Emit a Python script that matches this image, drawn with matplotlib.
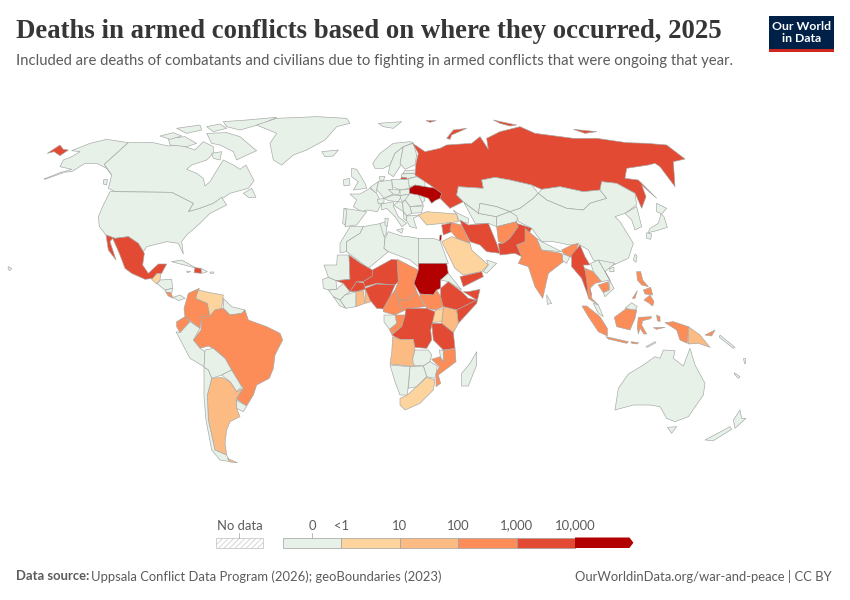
import numpy as np
import matplotlib
matplotlib.use('Agg')
import matplotlib.pyplot as plt
from matplotlib.colors import BoundaryNorm, ListedColormap
from matplotlib.patches import Polygon, Rectangle

plt.rcParams['hatch.linewidth'] = 0.5
plt.rcParams['hatch.color'] = '#dcdcdc'

# estimated deaths per country, read off the colour classes of the map
no_deaths = ['Alaska', 'Aleutians', 'Canada', 'USA', 'Greenland', 'Iceland', 'Baffin', 'Victoria', 'Ellesmere', 'Banks', 'Melville', 'QueenEliz',
             'Southampton', 'Vancouver', 'Newfoundland', 'Cuba', 'DomRep', 'Jamaica', 'PuertoRico', 'Honduras', 'Nicaragua', 'Panama', 'Guyanas',
             'Peru', 'Bolivia', 'Paraguay', 'Uruguay', 'Chile', 'Morocco', 'Algeria', 'Tunisia', 'Libya', 'Egypt', 'Mauritania',
             'Senegal', 'Guinea', 'Liberia', 'IvoryCoast', 'Eritrea', 'Gabon', 'Zambia', 'Malawi', 'Zimbabwe',
             'Botswana', 'Namibia', 'Madagascar', 'Norway', 'Sweden', 'Finland', 'Estonia', 'Lithuania', 'Belarus', 'Poland',
             'Germany', 'Denmark', 'UK', 'Ireland', 'France', 'Spain', 'Portugal', 'Italy', 'Sicily', 'Sardinia',
             'Czechia', 'Austria', 'Hungary', 'Romania', 'Moldova', 'Bulgaria', 'Serbia', 'Croatia', 'Albania', 'Greece', 'Slovakia', 'Switzerland',
             'Benelux', 'Svalbard', 'Caucasus', 'Kazakhstan', 'Turkmenistan', 'Uzbekistan', 'Kyrgyzstan', 'Mongolia', 'China', 'Korea', 'Honshu',
             'Hokkaido', 'Kyushu', 'Taiwan', 'Hainan', 'Oman', 'Bangladesh', 'Nepal', 'SriLanka', 'Laos', 'Vietnam',
             'Malaya', 'Sabah', 'Australia', 'Tasmania', 'NZNorth', 'NZSouth', 'Hawaii', 'Solomon', 'Vanuatu', 'NewCaledonia', 'Flores']
low = ['Guatemala', 'Venezuela', 'Turkey', 'Saudi', 'SouthAfrica', 'Uganda']
mid = ['Argentina', 'Kenya', 'Ghana', 'Togo', 'Angola', 'PNG', 'Tierra']
high = ['Colombia', 'Ecuador', 'Brazil', 'CostaRica', 'Chad', 'SouthSudan', 'CAR', 'Cameroon', 'Congo', 'Mozambique',
        'Iraq', 'Afghanistan', 'India', 'NEIndia', 'Thailand', 'Cambodia', 'Sumatra', 'Java', 'Kalimantan', 'Sulawesi',
        'WestPapua', 'Luzon', 'Mindanao', 'Palawan', 'Visayas', 'Timor', 'Seram', 'Halmahera', 'Bougainville']
higher = ['Chukotka', 'Mexico', 'Haiti', 'Mali', 'Burkina', 'Niger', 'Nigeria', 'Ethiopia', 'Somalia', 'Tanzania',
          'DRC', 'Russia', 'Kaliningrad', 'NovayaZemlya', 'Severnaya', 'NewSiberian', 'FranzJosef', 'Syria', 'Iran', 'Yemen',
          'Pakistan', 'Myanmar']
highest = ['Ukraine', 'Sudan', 'Israel']
deaths = {}
for names, value in [(no_deaths, 0), (low, 5), (mid, 50), (high, 500), (higher, 5000), (highest, 20000)]:
    for name in names:
        deaths[name] = value

legend_labels = ['0', '<1', '10', '100', '1,000', '10,000']
class_edges = [0, 1, 10, 100, 1000, 10000, 1000000]
class_colors = ['#e7f1e8', '#fdd49e', '#fdbb84', '#fc8d59', '#e34a33', '#b30000']

NA = (0, 110)
EA = (340, 110)
SA = (130, 280)
AF = (320, 240)
SE = (500, 230)
EU = (360, 130)

shapes = {
    'Aleutians': (NA, [(132, 207), (185, 186), (188, 189), (134, 208)]),
    'Alaska': (NA, [(185, 187), (215, 178), (180, 170), (190, 150), (215, 140), (240, 125), (215, 122), (270, 100), (320, 88), (385, 98), (313, 163),
                    (335, 195), (320, 175), (290, 160), (255, 160), (215, 185)]),
    'Chukotka': (NA, [(142, 130), (180, 105), (190, 118), (205, 120), (180, 137), (162, 125)]),
    'Canada': (NA, [(385, 98), (455, 97), (505, 108), (540, 105), (585, 120), (610, 95), (640, 110), (640, 130), (620, 150), (575, 165),
                    (560, 178), (590, 190), (610, 205), (615, 228), (630, 215), (645, 190), (670, 150), (700, 165), (720, 178),
                    (738, 165), (762, 212), (745, 235), (690, 250), (672, 262), (640, 280), (600, 295), (565, 305), (580, 280), (515, 247),
                    (345, 245), (325, 235), (335, 195), (313, 163)]),
    'Baffin': (NA, [(620, 70), (680, 68), (720, 80), (755, 110), (770, 122), (730, 140), (710, 150), (700, 125), (660, 105), (635, 100)]),
    'Southampton': (NA, [(635, 130), (665, 125), (660, 150), (640, 145)]),
    'Victoria': (NA, [(505, 85), (555, 80), (590, 100), (560, 110), (510, 105)]),
    'Banks': (NA, [(480, 78), (520, 68), (545, 78), (510, 88)]),
    'Melville': (NA, [(530, 55), (600, 45), (605, 60), (560, 70)]),
    'QueenEliz': (NA, [(620, 50), (660, 42), (680, 55), (640, 65)]),
    'Ellesmere': (NA, [(670, 35), (740, 30), (830, 22), (790, 40), (720, 60), (680, 50)]),
    'Vancouver': (NA, [(310, 210), (322, 208), (320, 225), (310, 222)]),
    'Newfoundland': (NA, [(730, 250), (755, 235), (768, 262), (745, 262)]),
    'Greenland': (NA, [(770, 45), (830, 25), (950, 20), (1040, 25), (1050, 40), (1010, 50), (975, 90), (920, 120), (880, 135),
                       (845, 165), (820, 150), (810, 100), (830, 70)]),
    'Iceland': (NA, [(965, 125), (1015, 120), (1000, 138), (975, 140)]),
    'USA': (NA, [(330, 245), (345, 245), (515, 247), (580, 280), (565, 305), (600, 295), (640, 280), (665, 262), (680, 285), (630, 310), (600, 340),
                 (560, 375), (545, 395), (550, 432), (535, 400), (500, 395), (440, 410), (430, 425), (415, 400), (385, 380), (345, 385),
                 (318, 375), (298, 350), (295, 320), (310, 285)]),
    'Mexico': (NA, [(318, 375), (345, 385), (385, 380), (415, 400), (433, 430), (428, 465), (445, 490), (475, 462), (500, 462),
                    (485, 490), (470, 490), (460, 505), (435, 508), (395, 490), (375, 475), (358, 430), (338, 385), (330, 395),
                    (348, 450), (325, 420)]),
    'Guatemala': (NA, [(455, 508), (470, 492), (482, 490), (480, 510), (470, 522)]),
    'Honduras': (NA, [(480, 510), (515, 508), (518, 535), (495, 540), (472, 522)]),
    'Nicaragua': (NA, [(495, 540), (518, 535), (515, 550), (500, 548)]),
    'CostaRica': (NA, [(497, 546), (512, 548), (520, 565), (505, 558)]),
    'Panama': (NA, [(520, 562), (540, 555), (555, 565), (535, 572)]),
    'Cuba': (NA, [(515, 455), (545, 450), (590, 475), (560, 467)]),
    'Haiti': (NA, [(585, 473), (603, 475), (605, 490), (582, 488)]),
    'DomRep': (NA, [(603, 475), (622, 485), (605, 490)]),
    'Jamaica': (NA, [(560, 483), (572, 485), (562, 488)]),
    'PuertoRico': (NA, [(630, 486), (642, 486), (640, 490), (630, 490)]),
    'Hawaii': (NA, [(25, 470), (35, 475), (30, 482), (24, 477)]),
    'Colombia': (SA, [(208, 25), (175, 40), (162, 85), (165, 110), (180, 122), (210, 145), (215, 110), (240, 108), (232, 70), (197, 55)]),
    'Ecuador': (SA, [(140, 125), (165, 110), (180, 125), (150, 158), (140, 140)]),
    'Venezuela': (SA, [(197, 55), (205, 30), (240, 38), (280, 45), (275, 85), (255, 90), (240, 110), (232, 70)]),
    'Guyanas': (SA, [(280, 55), (305, 80), (345, 90), (335, 100), (300, 105), (280, 85)]),
    'Brazil': (SA, [(215, 110), (240, 108), (255, 90), (280, 85), (300, 105), (335, 100), (345, 90), (355, 120), (410, 140), (450, 160),
                    (458, 180), (435, 225), (430, 265), (418, 295), (380, 315), (370, 345), (350, 378), (320, 357), (340, 325), (320, 295),
                    (305, 270), (285, 235), (250, 205), (235, 198), (210, 205), (190, 180), (213, 150)]),
    'Peru': (SA, [(138, 155), (150, 158), (180, 125), (210, 145), (190, 180), (210, 205), (225, 215), (222, 260), (180, 235)]),
    'Bolivia': (SA, [(225, 210), (250, 205), (285, 235), (305, 270), (275, 285), (245, 295), (235, 270), (222, 262)]),
    'Paraguay': (SA, [(275, 285), (305, 270), (320, 295), (335, 320), (320, 335), (300, 305)]),
    'Uruguay': (SA, [(318, 360), (350, 378), (340, 395), (320, 385)]),
    'Argentina': (SA, [(245, 295), (275, 292), (300, 305), (320, 335), (338, 325), (318, 358), (320, 385), (330, 410), (300, 425),
                       (290, 450), (285, 490), (290, 525), (255, 510), (235, 420), (232, 345)]),
    'Chile': (SA, [(222, 262), (235, 270), (245, 295), (232, 345), (235, 420), (255, 510), (290, 525), (300, 545), (270, 540), (245, 510),
                   (228, 420), (222, 350)]),
    'Tierra': (SA, [(292, 535), (322, 548), (300, 546)]),
    'Morocco': (EA, [(0, 400), (30, 350), (70, 350), (60, 370), (20, 395), (20, 425), (0, 428)]),
    'Algeria': (EA, [(60, 370), (70, 350), (125, 340), (135, 385), (132, 415), (145, 425), (85, 475), (20, 425), (20, 395)]),
    'Tunisia': (EA, [(120, 340), (138, 335), (140, 370), (132, 380)]),
    'Libya': (EA, [(135, 385), (145, 365), (185, 378), (205, 380), (235, 385), (235, 470), (210, 450), (145, 425), (132, 415)]),
    'Egypt': (EA, [(235, 385), (280, 385), (300, 392), (325, 460), (235, 460)]),
    'Mauritania': (AF, [(12, 75), (50, 75), (52, 45), (87, 45), (90, 118), (48, 122), (25, 112)]),
    'Senegal': (AF, [(8, 118), (25, 112), (48, 122), (50, 148), (25, 150), (10, 145)]),
    'Guinea': (AF, [(25, 150), (50, 148), (70, 130), (90, 155), (75, 165), (60, 180), (40, 170)]),
    'Liberia': (AF, [(40, 170), (60, 180), (78, 205), (60, 198)]),
    'IvoryCoast': (AF, [(75, 165), (108, 155), (108, 200), (78, 205), (60, 180)]),
    'Mali': (AF, [(87, 45), (122, 70), (157, 90), (157, 108), (130, 125), (110, 125), (90, 155), (70, 130), (48, 122), (90, 118)]),
    'Burkina': (AF, [(90, 155), (110, 125), (135, 130), (135, 148), (108, 155)]),
    'Ghana': (AF, [(108, 155), (130, 152), (135, 190), (108, 200)]),
    'Togo': (AF, [(135, 150), (150, 145), (152, 185), (137, 190)]),
    'Niger': (AF, [(157, 90), (215, 58), (232, 60), (235, 125), (225, 135), (170, 130), (135, 140), (130, 125), (157, 108)]),
    'Nigeria': (AF, [(135, 145), (170, 132), (225, 135), (210, 170), (190, 207), (170, 205), (150, 180)]),
    'Chad': (AF, [(232, 58), (295, 90), (282, 130), (290, 155), (265, 180), (235, 180), (225, 150), (235, 125)]),
    'Sudan': (AF, [(295, 70), (380, 70), (385, 100), (362, 120), (362, 145), (350, 150), (340, 165), (300, 162), (282, 130), (295, 90)]),
    'SouthSudan': (AF, [(300, 162), (340, 165), (350, 150), (362, 170), (370, 200), (345, 210), (320, 205), (300, 170)]),
    'CAR': (AF, [(235, 180), (265, 180), (290, 155), (315, 200), (270, 205), (245, 215)]),
    'Cameroon': (AF, [(225, 150), (235, 180), (245, 215), (225, 225), (190, 215), (190, 205), (210, 170)]),
    'Eritrea': (AF, [(362, 120), (385, 100), (425, 150), (385, 125)]),
    'Ethiopia': (AF, [(385, 125), (425, 155), (445, 175), (470, 180), (410, 210), (370, 200), (362, 170), (362, 145)]),
    'Somalia': (AF, [(480, 148), (470, 190), (415, 250), (410, 210), (470, 180), (430, 155), (445, 155)]),
    'Kenya': (AF, [(370, 200), (410, 210), (415, 250), (400, 278), (365, 250)]),
    'Uganda': (AF, [(345, 212), (370, 205), (365, 245), (335, 248)]),
    'Tanzania': (AF, [(335, 250), (365, 250), (400, 278), (405, 325), (370, 330), (340, 300)]),
    'DRC': (AF, [(258, 205), (270, 205), (320, 205), (345, 215), (332, 270), (335, 300), (320, 325), (285, 322), (280, 298), (240, 298),
                 (215, 285), (245, 260), (255, 225)]),
    'Congo': (AF, [(225, 225), (255, 225), (245, 260), (215, 282), (208, 268), (230, 250)]),
    'Gabon': (AF, [(192, 225), (225, 225), (230, 250), (208, 268), (192, 245)]),
    'Angola': (AF, [(218, 290), (240, 298), (280, 298), (285, 330), (278, 355), (285, 380), (210, 372), (215, 340)]),
    'Zambia': (AF, [(285, 330), (325, 330), (335, 345), (330, 365), (310, 378), (280, 375), (278, 355)]),
    'Malawi': (AF, [(358, 330), (370, 332), (372, 365), (362, 355)]),
    'Mozambique': (AF, [(335, 358), (360, 350), (372, 368), (370, 332), (405, 325), (408, 365), (355, 405), (362, 430), (348, 440), (348, 400), (358, 380)]),
    'Zimbabwe': (AF, [(310, 378), (330, 365), (352, 378), (345, 415), (320, 410)]),
    'Botswana': (AF, [(270, 380), (310, 378), (320, 410), (290, 440), (265, 445)]),
    'Namibia': (AF, [(210, 375), (270, 380), (262, 465), (240, 465), (225, 425)]),
    'SouthAfrica': (AF, [(240, 475), (262, 465), (290, 440), (320, 412), (345, 420), (340, 450), (300, 490), (255, 510), (240, 495)]),
    'Madagascar': (AF, [(470, 335), (470, 375), (445, 438), (425, 438), (425, 400), (450, 370)]),
    'Norway': (EU, [(38, 100), (60, 70), (100, 40), (150, 35), (160, 38), (130, 50), (105, 70), (90, 105), (70, 115), (45, 115)]),
    'Sweden': (EU, [(90, 105), (105, 70), (130, 50), (125, 75), (120, 110), (100, 140), (85, 130)]),
    'Finland': (EU, [(130, 50), (160, 40), (170, 75), (165, 105), (135, 118), (120, 100), (125, 75)]),
    'Estonia': (EU, [(135, 122), (165, 120), (168, 130), (128, 132)]),
    'Lithuania': (EU, [(125, 132), (168, 130), (170, 140), (140, 146), (125, 140)]),
    'Kaliningrad': (EU, [(123, 142), (140, 143), (140, 148), (123, 148)]),
    'Belarus': (EU, [(140, 148), (170, 140), (195, 150), (195, 170), (165, 165), (148, 172)]),
    'Poland': (EU, [(95, 148), (122, 148), (145, 148), (148, 175), (120, 180), (97, 170)]),
    'Germany': (EU, [(55, 155), (95, 150), (97, 172), (100, 192), (72, 205), (50, 178)]),
    'Denmark': (EU, [(58, 140), (75, 140), (70, 152), (60, 152)]),
    'Benelux': (EU, [(30, 172), (55, 155), (50, 178), (48, 190)]),
    'UK': (EA, [(35, 175), (50, 178), (75, 220), (80, 235), (40, 240), (55, 215), (35, 200)]),
    'Ireland': (EA, [(10, 210), (28, 205), (30, 225), (12, 228)]),
    'France': (EA, [(30, 252), (60, 252), (90, 235), (110, 250), (125, 280), (112, 305), (80, 300), (65, 305), (40, 290), (50, 270)]),
    'Spain': (EA, [(12, 295), (65, 303), (80, 305), (50, 345), (15, 350), (18, 325)]),
    'Portugal': (EA, [(12, 295), (20, 300), (18, 325), (15, 345), (8, 340)]),
    'Switzerland': (EU, [(52, 208), (72, 205), (72, 218), (55, 222)]),
    'Italy': (EU, [(65, 222), (100, 215), (100, 228), (115, 260), (140, 280), (125, 290), (105, 260), (80, 235), (65, 240)]),
    'Sicily': (EU, [(110, 300), (130, 295), (125, 310)]),
    'Sardinia': (EU, [(75, 265), (85, 265), (82, 290), (75, 285)]),
    'Czechia': (EU, [(85, 178), (120, 180), (115, 195), (100, 192)]),
    'Austria': (EU, [(72, 205), (100, 195), (125, 197), (115, 215), (85, 212)]),
    'Slovakia': (EU, [(120, 180), (148, 178), (150, 192), (120, 197)]),
    'Hungary': (EU, [(120, 197), (150, 192), (150, 205), (125, 215)]),
    'Romania': (EU, [(150, 190), (178, 193), (190, 225), (150, 230), (135, 210)]),
    'Moldova': (EU, [(175, 192), (190, 197), (195, 212), (186, 218)]),
    'Bulgaria': (EU, [(150, 230), (190, 228), (185, 248), (155, 250)]),
    'Croatia': (EU, [(100, 225), (115, 215), (128, 218), (130, 245), (115, 235)]),
    'Serbia': (EU, [(128, 218), (135, 210), (150, 230), (155, 250), (140, 258), (130, 245)]),
    'Albania': (EU, [(130, 245), (140, 258), (140, 272), (132, 268)]),
    'Greece': (EU, [(140, 258), (180, 255), (160, 265), (170, 295), (150, 290), (140, 272)]),
    'Svalbard': (EA, [(115, 40), (185, 35), (160, 55), (130, 50)]),
    'Ukraine': (EU, [(148, 175), (165, 165), (195, 170), (230, 175), (250, 190), (240, 205), (225, 212), (215, 220), (205, 205), (175, 195), (148, 190)]),
    'Russia': (EA, [(218, 100), (255, 125), (300, 115), (320, 105), (395, 100), (420, 80), (445, 118), (440, 85), (480, 65), (540, 50),
                    (585, 70), (700, 85), (770, 85), (860, 98), (920, 100), (980, 105), (1035, 147), (1000, 155), (1005, 230), (960, 170),
                    (945, 160), (925, 165), (860, 175), (855, 205), (895, 210), (950, 265), (905, 225), (918, 260), (905, 295), (890, 260),
                    (885, 250), (830, 220), (785, 215), (780, 240), (730, 245), (660, 230), (605, 238), (575, 225), (510, 210), (465, 202),
                    (425, 210), (430, 235), (355, 230), (350, 255), (370, 275), (350, 285), (330, 295), (300, 265), (305, 250), (270, 225),
                    (225, 195), (228, 160), (235, 130)]),
    'NovayaZemlya': (EA, [(320, 85), (340, 60), (380, 55), (335, 75), (330, 88)]),
    'Severnaya': (EA, [(460, 30), (505, 40), (530, 45), (510, 48), (480, 40)]),
    'NewSiberian': (EA, [(700, 58), (770, 65), (735, 70)]),
    'FranzJosef': (EA, [(258, 32), (288, 32), (270, 37)]),
    'Kazakhstan': (EA, [(355, 230), (430, 235), (425, 210), (465, 202), (510, 210), (575, 225), (595, 250), (580, 265), (540, 295), (510, 305),
                        (470, 290), (420, 280), (415, 310), (370, 275), (350, 255)]),
    'Turkmenistan': (EA, [(372, 278), (415, 310), (470, 320), (470, 350), (445, 340), (405, 340)]),
    'Uzbekistan': (EA, [(420, 280), (470, 290), (510, 305), (490, 312), (470, 320), (415, 310)]),
    'Kyrgyzstan': (EA, [(490, 312), (510, 305), (535, 318), (530, 335), (470, 350), (470, 320)]),
    'Mongolia': (EA, [(605, 238), (660, 230), (730, 245), (780, 240), (800, 265), (750, 280), (730, 300), (680, 295), (620, 270), (595, 250)]),
    'China': (EA, [(595, 250), (620, 270), (680, 295), (730, 300), (750, 280), (800, 265), (780, 240), (785, 215), (830, 220), (885, 250), (890, 285),
                   (855, 310), (825, 320), (840, 335), (880, 400), (865, 445), (810, 470), (760, 450), (745, 420), (720, 405), (690, 405),
                   (640, 395), (605, 395), (575, 355), (535, 335), (530, 318), (510, 305), (540, 295), (580, 265)]),
    'Korea': (EA, [(855, 310), (890, 290), (905, 350), (885, 360), (875, 330)]),
    'Hokkaido': (EA, [(950, 280), (980, 295), (965, 312), (950, 305)]),
    'Honshu': (EA, [(963, 312), (972, 320), (982, 352), (950, 362), (925, 368), (930, 355), (955, 340)]),
    'Kyushu': (EA, [(920, 368), (935, 372), (932, 388), (920, 385)]),
    'Taiwan': (SE, [(405, 72), (411, 78), (408, 97), (400, 90)]),
    'Hainan': (SE, [(328, 115), (342, 112), (342, 125), (330, 125)]),
    'Caucasus': (EA, [(340, 300), (350, 308), (385, 325), (385, 340), (358, 333), (350, 315)]),
    'Turkey': (EA, [(235, 315), (260, 305), (350, 312), (355, 335), (310, 340), (260, 345)]),
    'Syria': (EA, [(305, 345), (335, 338), (335, 365), (310, 375)]),
    'Israel': (EA, [(300, 375), (305, 375), (303, 392), (298, 392)]),
    'Iraq': (EA, [(335, 338), (365, 345), (390, 400), (350, 385), (330, 360)]),
    'Iran': (EA, [(360, 330), (385, 345), (445, 340), (470, 400), (480, 430), (440, 425), (420, 405), (390, 395), (365, 345)]),
    'Saudi': (EA, [(305, 395), (335, 380), (390, 400), (395, 420), (445, 465), (425, 485), (370, 495), (345, 475)]),
    'Yemen': (EA, [(360, 500), (425, 485), (430, 500), (370, 530)]),
    'Oman': (EA, [(430, 485), (445, 465), (440, 450), (470, 460), (440, 490)]),
    'Afghanistan': (EA, [(470, 350), (530, 335), (535, 350), (510, 385), (490, 400), (475, 395)]),
    'Pakistan': (EA, [(475, 400), (490, 400), (510, 385), (535, 350), (530, 340), (575, 355), (555, 395), (530, 405), (545, 440), (525, 430), (480, 435)]),
    'India': (EA, [(555, 355), (590, 385), (605, 420), (665, 430), (670, 455), (625, 490), (608, 565), (585, 530), (565, 470), (535, 460), (545, 440),
                   (530, 405), (555, 395)]),
    'Nepal': (EA, [(590, 385), (605, 395), (665, 425), (605, 420)]),
    'NEIndia': (EA, [(665, 420), (695, 405), (715, 400), (700, 445), (690, 440), (670, 430)]),
    'Bangladesh': (EA, [(668, 432), (690, 440), (680, 460), (668, 452)]),
    'SriLanka': (SE, [(140, 195), (155, 220), (142, 223)]),
    'Myanmar': (EA, [(720, 405), (735, 440), (750, 465), (730, 465), (745, 510), (755, 555), (745, 560), (725, 505), (695, 470), (695, 435)]),
    'Thailand': (SE, [(255, 115), (280, 125), (305, 155), (285, 160), (270, 175), (275, 205), (295, 225), (265, 205), (262, 170)]),
    'Cambodia': (SE, [(295, 165), (325, 155), (328, 180), (310, 188)]),
    'Laos': (SE, [(272, 100), (295, 90), (330, 150), (305, 155), (280, 125)]),
    'Vietnam': (SE, [(295, 90), (345, 100), (315, 125), (342, 175), (315, 200), (310, 188), (328, 180), (330, 150)]),
    'Malaya': (SE, [(280, 220), (295, 225), (310, 260), (295, 250)]),
    'Sumatra': (SE, [(246, 228), (260, 228), (300, 260), (322, 295), (322, 318), (295, 305), (265, 260)]),
    'Java': (SE, [(318, 320), (385, 335), (380, 340), (325, 327)]),
    'Timor': (SE, [(393, 335), (415, 338), (412, 342), (395, 340)]),
    'Flores': (SE, [(438, 350), (465, 335), (468, 338), (442, 352)]),
    'Kalimantan': (SE, [(343, 262), (380, 235), (410, 240), (405, 265), (390, 300), (350, 290)]),
    'Sabah': (SE, [(375, 235), (395, 218), (412, 230), (405, 240)]),
    'Sulawesi': (SE, [(415, 262), (455, 260), (452, 266), (428, 272), (425, 285), (440, 312), (432, 312), (420, 295), (415, 312), (412, 290)]),
    'Halmahera': (SE, [(470, 255), (480, 260), (480, 275), (472, 272)]),
    'Seram': (SE, [(460, 293), (495, 292), (470, 298)]),
    'WestPapua': (SE, [(495, 278), (520, 275), (565, 290), (562, 340), (540, 330), (530, 300)]),
    'PNG': (SE, [(565, 290), (600, 315), (630, 352), (595, 340), (565, 342)]),
    'Bougainville': (SE, [(615, 315), (645, 300), (635, 318)]),
    'Solomon': (SE, [(660, 315), (705, 352), (700, 355), (658, 322)]),
    'Vanuatu': (SE, [(730, 385), (736, 385), (736, 400), (731, 400)]),
    'NewCaledonia': (SE, [(703, 428), (720, 440), (715, 445), (703, 433)]),
    'Luzon': (SE, [(410, 125), (422, 125), (428, 150), (445, 170), (425, 165), (412, 150)]),
    'Visayas': (SE, [(430, 180), (452, 172), (458, 195), (435, 192)]),
    'Mindanao': (SE, [(432, 210), (450, 195), (462, 215), (458, 228), (445, 218)]),
    'Palawan': (SE, [(397, 205), (412, 182), (405, 205)]),
    'Australia': (SE, [(345, 540), (355, 475), (385, 432), (430, 405), (465, 380), (480, 385), (490, 360), (525, 362), (520, 385), (550, 408),
                       (570, 355), (585, 405), (615, 460), (610, 495), (565, 560), (525, 575), (500, 565), (480, 530), (450, 525), (400, 525)]),
    'Tasmania': (SE, [(502, 592), (530, 590), (515, 610)]),
    'NZNorth': (SE, [(700, 570), (720, 540), (725, 565), (738, 565), (705, 595)]),
    'NZSouth': (SE, [(615, 630), (690, 590), (695, 598), (640, 632)]),
}

fig = plt.figure(figsize=(8.5, 6), dpi=100)
ax = fig.add_axes([0, 0, 1, 1])
ax.set_xlim(0, 850)
ax.set_ylim(600, 0)
ax.axis('off')

cmap = ListedColormap(class_colors)
norm = BoundaryNorm(class_edges, cmap.N)

for name, (frame, points) in shapes.items():
    pts = np.array(points) / 3 + np.array(frame)
    ax.add_patch(Polygon(pts, closed=True, facecolor=cmap(norm(deaths[name])), edgecolor='#a3a6a4', linewidth=0.45, joinstyle='round'))

# title block
ax.text(16, 31, 'Deaths in armed conflicts based on where they occurred, 2025', family='Liberation Serif', weight='bold',
        fontsize=19.3, color='#363636', va='center')
ax.text(16, 61, 'Included are deaths of combatants and civilians due to fighting in armed conflicts that were ongoing that year.',
        family='Lato', fontsize=10.7, color='#5b5b5b', va='center')

# logo
ax.add_patch(Rectangle((769, 16), 65, 36, facecolor='#002147', edgecolor='none'))
ax.add_patch(Rectangle((769, 49), 65, 3, facecolor='#ce261e', edgecolor='none'))
ax.text(801.5, 26, 'Our World', family='Lato', weight='bold', fontsize=8.8, color='white', ha='center', va='center')
ax.text(801.5, 39, 'in Data', family='Lato', weight='bold', fontsize=8.8, color='white', ha='center', va='center')

# legend
bar_left, bar_step, bar_top, bar_h = 283, 58.4, 537.5, 10.5
for i, color in enumerate(class_colors):
    x = bar_left + i * bar_step
    if i == len(class_colors) - 1:
        ax.add_patch(Polygon([(x, bar_top), (x + bar_step - 4, bar_top), (x + bar_step, bar_top + bar_h / 2),
                              (x + bar_step - 4, bar_top + bar_h), (x, bar_top + bar_h)], facecolor=color, edgecolor='none'))
    else:
        ax.add_patch(Rectangle((x, bar_top), bar_step, bar_h, facecolor=color, edgecolor='#a0a0a0', linewidth=0.5))
ax.plot([312.5, 312.5], [533, 537.5], color='#a0a0a0', lw=0.5)
label_x = [312.5] + [bar_left + k * bar_step for k in range(1, 6)]
for x, label in zip(label_x, legend_labels):
    ax.text(x, 525.5, label, family='Lato', fontsize=9.4, color='#5b5b5b', ha='center', va='center')
ax.text(239.5, 525.5, 'No data', family='Lato', fontsize=9.4, color='#5b5b5b', ha='center', va='center')
ax.plot([239.5, 239.5], [533, 537.5], color='#a0a0a0', lw=0.5)
ax.add_patch(Rectangle((216, 537.5), 47, 10.5, facecolor='white', edgecolor='#c8c8c8', linewidth=0.6, hatch='//////'))

# footer
ax.text(16, 576.5, 'Data source:', family='Lato', weight='bold', fontsize=9.35, color='#5b5b5b', va='center')
ax.text(91, 576.5, 'Uppsala Conflict Data Program (2026); geoBoundaries (2023)', family='Lato', fontsize=9.35, color='#5b5b5b', va='center')
ax.text(832, 576.5, 'OurWorldinData.org/war-and-peace | CC BY', family='Lato', fontsize=9.35, color='#5b5b5b', ha='right', va='center')

fig.savefig('out.png', dpi=100)
